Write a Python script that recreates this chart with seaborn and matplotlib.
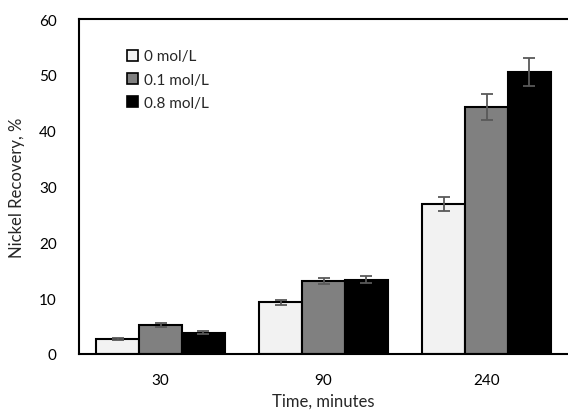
import seaborn as sns
import matplotlib.pyplot as plt
import pandas as pd

times = ['30', '90', '240']
conc = ['0 mol/L', '0.1 mol/L', '0.8 mol/L']
rec_0 = [2.7, 9.3, 26.9]
rec_01 = [5.2, 13.1, 44.3]
rec_08 = [3.8, 13.3, 50.5]
err_0 = [0.2, 0.45, 1.3]
err_01 = [0.3, 0.55, 2.3]
err_08 = [0.25, 0.6, 2.5]

df = pd.DataFrame({
    'time': times * 3,
    'conc': [conc[0]] * 3 + [conc[1]] * 3 + [conc[2]] * 3,
    'rec': rec_0 + rec_01 + rec_08,
    'err': err_0 + err_01 + err_08,
})

sns.set_style('white')
plt.rcParams['font.family'] = ['Lato', 'DejaVu Sans']

fig = plt.figure(figsize=(5.68, 4.14), dpi=100)
ax = fig.add_axes([79 / 568, 59 / 414, 489 / 568, 335 / 414])

pal = ['#f2f2f2', '#808080', '#000000']
sns.barplot(data=df, x='time', y='rec', hue='conc', order=times, hue_order=conc,
            palette=pal, errorbar=None, width=0.79, edgecolor='black',
            linewidth=1.5, ax=ax)

# error bars on the bar centres
for cont, c in zip(ax.containers, conc):
    sub = df[df['conc'] == c].set_index('time').loc[times]
    xs = [p.get_x() + p.get_width() / 2 for p in cont.patches]
    ax.errorbar(xs, sub['rec'], yerr=sub['err'], fmt='none', ecolor='#595959',
                elinewidth=1.3, capsize=4.5, capthick=1.3, zorder=5)

ax.set_xlim(-0.5, 2.5)
ax.set_ylim(0, 60)
ax.set_yticks([0, 10, 20, 30, 40, 50, 60])
ax.tick_params(axis='both', length=0, labelsize=11, colors='black')
ax.tick_params(axis='x', pad=14)
ax.tick_params(axis='y', pad=16)
ax.set_xlabel('Time, minutes', fontsize=12, labelpad=4)
ax.set_ylabel('Nickel Recovery, %', fontsize=12, labelpad=10)
for s in ['left', 'bottom', 'top']:
    ax.spines[s].set_linewidth(1.5)
    ax.spines[s].set_color('black')
ax.spines['right'].set_visible(False)

leg = ax.legend(loc='upper left', bbox_to_anchor=(0.07, 0.95), frameon=False,
                fontsize=11, handlelength=0.75, handleheight=0.75,
                handletextpad=0.35, labelspacing=0.6)
for h in leg.legend_handles:
    h.set_linewidth(1.2)

fig.savefig('out.png', dpi=100)
